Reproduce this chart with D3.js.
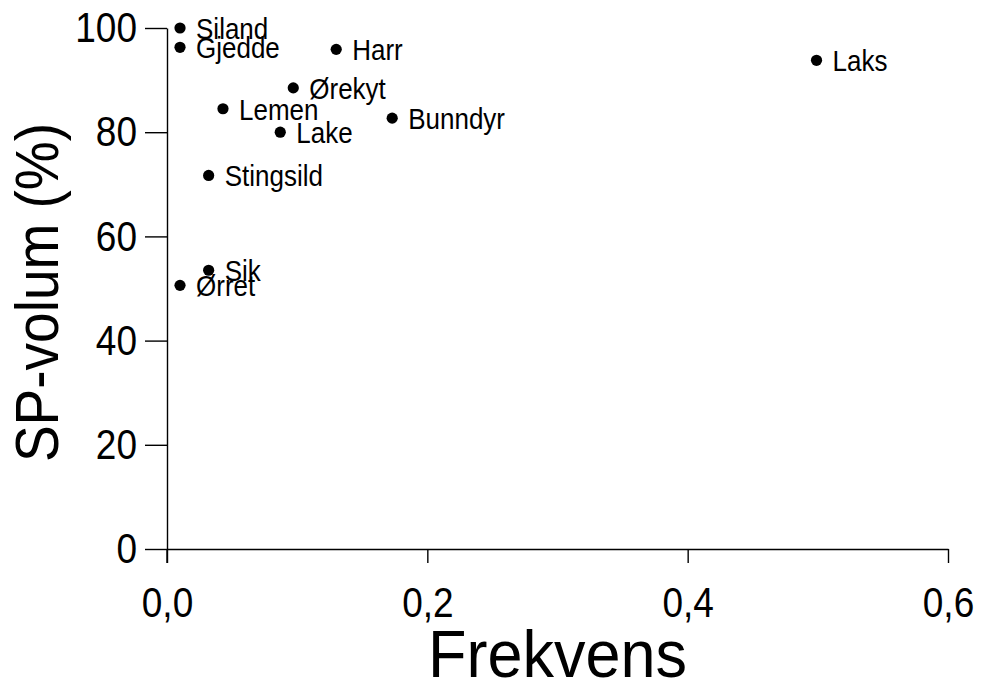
<!DOCTYPE html>
<html>
<head>
<meta charset="utf-8">
<script src="https://cdn.jsdelivr.net/npm/d3@7"></script>
<style>
  html, body { margin: 0; padding: 0; background: #fff; }
  svg { display: block; font-family: "Liberation Sans", Arial, sans-serif; }
</style>
</head>
<body>
<svg id="chart" width="982" height="684"></svg>
<script>
// Food items: frequency of occurrence vs. share of stomach volume
const names = ["Siland", "Gjedde", "Harr", "Laks", "Ørekyt", "Lemen", "Bunndyr", "Lake", "Stingsild", "Sik", "Ørret"];
const frekvens = [0.010, 0.010, 0.130, 0.499, 0.097, 0.043, 0.173, 0.087, 0.032, 0.032, 0.010];
const spVolum = [100.0, 96.3, 95.9, 93.8, 88.5, 84.5, 82.7, 80.0, 71.7, 53.5, 50.6];

const xTicks = [0, 0.2, 0.4, 0.6];
const yTicks = [0, 20, 40, 60, 80, 100];

const svg = d3.select("#chart");
const plot = { left: 167, right: 948, top: 28, bottom: 549 };
const stretch = 1.16;   // glyphs are drawn taller than the base font

const x = d3.scaleLinear().domain([0, 0.6]).range([plot.left, plot.right]);
const y = d3.scaleLinear().domain([0, 100]).range([plot.bottom, plot.top]);

const commaFmt = d => d3.format(".1f")(d).replace(".", ",");

// X axis: ticks point downward
const xAxis = svg.append("g")
  .attr("transform", `translate(0,${plot.bottom})`)
  .call(d3.axisBottom(x).tickValues(xTicks).tickFormat(commaFmt).tickSize(14).tickSizeOuter(0));

const yAxis = svg.append("g")
  .attr("transform", `translate(${plot.left},0)`)
  .call(d3.axisLeft(y).tickValues(yTicks).tickFormat(d3.format("d")).tickSize(22).tickSizeOuter(0).tickPadding(8));

[xAxis, yAxis].forEach(g => {
  g.select(".domain").attr("stroke", "#000").attr("stroke-width", 1.4);
  g.selectAll(".tick line").attr("stroke", "#000").attr("stroke-width", 1.4);
  g.selectAll(".tick text")
    .attr("fill", "#000")
    .style("font-size", "37px")
    .attr("transform", `scale(1,${stretch})`);
});
xAxis.selectAll(".tick text").attr("y", 38 / stretch).attr("dy", "0.71em");

// vertical axis extends below the horizontal axis
yAxis.append("line")
  .attr("x1", 0).attr("x2", 0)
  .attr("y1", plot.bottom).attr("y2", plot.bottom + 14)
  .attr("stroke", "#000").attr("stroke-width", 1.4);

// Axis titles
svg.append("text")
  .attr("transform", `translate(${(plot.left + plot.right) / 2},677) scale(1,1.06)`)
  .attr("text-anchor", "middle")
  .style("font-size", "63px")
  .text("Frekvens");

svg.append("text")
  .attr("transform", `translate(58,${(plot.top + plot.bottom) / 2 + 4}) rotate(-90) scale(1,1.1)`)
  .attr("text-anchor", "middle")
  .style("font-size", "55px")
  .text("SP-volum (%)");

// Points and labels
const pts = names.map((n, i) => ({ name: n, fx: frekvens[i], vy: spVolum[i] }));

svg.append("g").selectAll("circle")
  .data(pts).join("circle")
  .attr("cx", d => x(d.fx))
  .attr("cy", d => y(d.vy))
  .attr("r", 5.6)
  .attr("fill", "#000");

svg.append("g").selectAll("text")
  .data(pts).join("text")
  .attr("transform", d => `translate(${x(d.fx) + 16},${y(d.vy) + 11}) scale(1,1.12)`)
  .style("font-size", "26px")
  .attr("fill", "#000")
  .text(d => d.name);
</script>
</body>
</html>
